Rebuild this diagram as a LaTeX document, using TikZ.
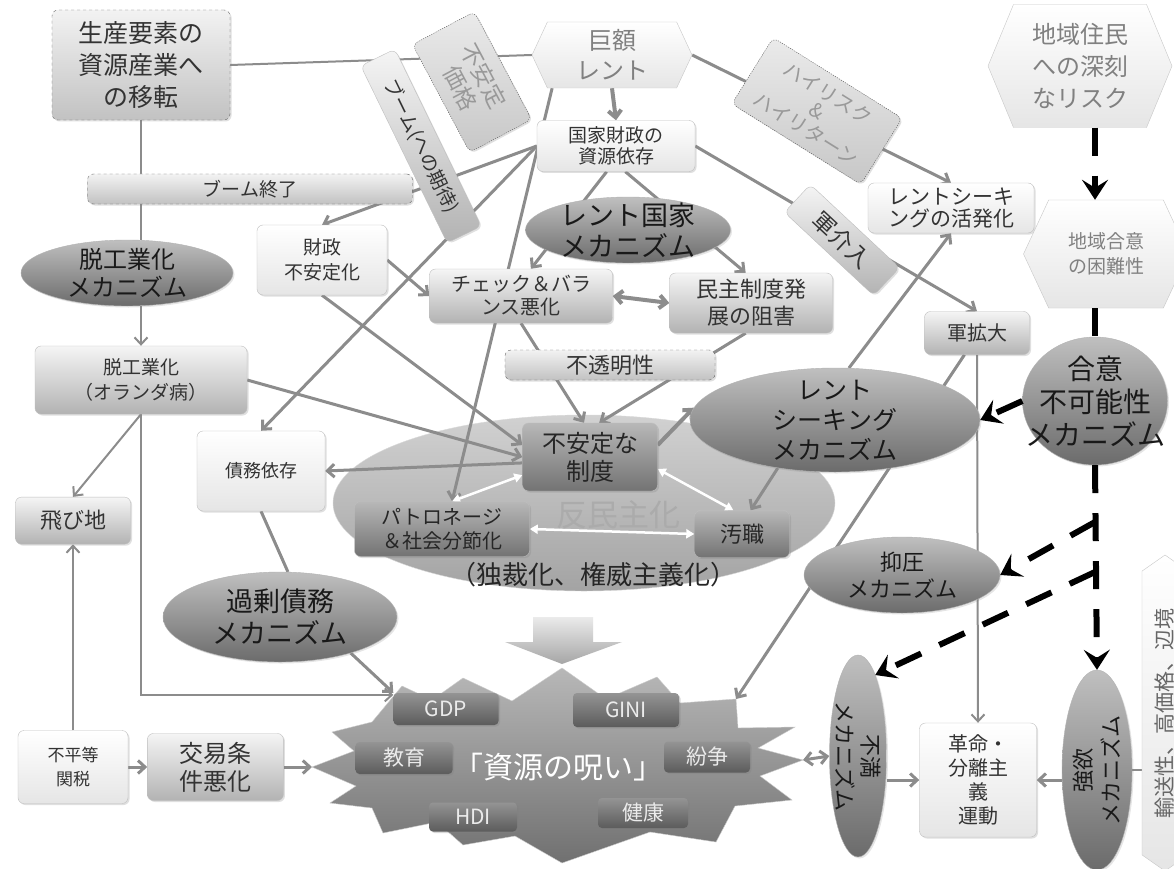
\documentclass[tikz,border=0pt]{standalone}
\usepackage{fontspec}
\setmainfont{Noto Sans CJK JP}
\usetikzlibrary{positioning,shapes.geometric,shapes.symbols,arrows.meta,shadows}
\pgfdeclarelayer{bg}
\pgfdeclarelayer{lines}
\pgfsetlayers{bg,lines,main}
\newcommand{\jsz}[2]{\fontsize{#1}{#2}\selectfont}
\colorlet{lnc}{black!45}

\begin{document}
\begin{tikzpicture}[x=1pt, y=-1pt, >={Straight Barb[length=7pt,width=13pt]},
        box/.style={draw=black!25, rounded corners=6pt, align=center, inner sep=1pt,
            top color=black!4, bottom color=black!30, text=black!80,
            drop shadow={opacity=0.25, shadow xshift=1.5pt, shadow yshift=-1.5pt}},
        lightbox/.style={box, top color=white, bottom color=black!10},
        darkbox/.style={box, top color=black!28, bottom color=black!55, text=black!85},
        dashbox/.style={box, dashed, draw=black!60, top color=black!5, bottom color=black!24},
        dotbox/.style={box, dash pattern=on 1.2pt off 1.2pt, draw=black!65,
            top color=black!8, bottom color=black!22, text=black!40},
        mech/.style={ellipse, draw=black!30, inner sep=0pt, align=center,
            top color=black!25, bottom color=black!58, text=black!90,
            drop shadow={opacity=0.2, shadow xshift=1.5pt, shadow yshift=-1.5pt}},
        hexa/.style={signal, signal to=west and east, signal pointer angle=130,
            draw=black!22, inner sep=0pt, align=center,
            top color=white, bottom color=black!10, text=black!50},
        tag/.style={rounded corners=4pt, top color=black!42, bottom color=black!64,
            text=white!92!black, inner sep=0pt, font=\jsz{21}{21},
            drop shadow={opacity=0.3, shadow xshift=1.5pt, shadow yshift=-1.5pt}},
        link/.style={draw=lnc, line width=3pt, ->},
        thinlink/.style={draw=lnc, line width=2pt, ->},
        bare/.style={draw=lnc, line width=2pt},
        twin/.style={draw=white, line width=2.5pt,
            {Triangle[length=8pt,width=9pt]}-{Triangle[length=8pt,width=9pt]}},
        risky/.style={draw=black, line width=6pt, dash pattern=on 28pt off 20pt,
            -{Stealth[length=20pt,width=26pt,inset=8pt]}}
    ]
    \useasboundingbox (0,0) rectangle (1174,869);

    \begin{pgfonlayer}{bg}
        \fill[white] (0,0) rectangle (1174,869);
        \node[ellipse, minimum width=502pt, minimum height=176pt, draw=black!15,
            top color=black!18, bottom color=black!36] (anti) at (584,503) {};
    \end{pgfonlayer}

    % upper left: boom and deindustrialisation
    \node[dashbox, minimum width=178pt, minimum height=110pt, font=\jsz{25}{32}] (seisan) at (141,65) {生産要素の\\資源産業へ\\の移転};
    \node[dashbox, minimum width=325pt, minimum height=30pt, font=\jsz{19}{19}] (boomend) at (250,189) {ブーム終了};
    \node[mech, minimum width=212pt, minimum height=66pt, inner ysep=-4pt, font=\jsz{24}{28}] (datsumech) at (127,273) {脱工業化\\メカニズム};
    \node[box, minimum width=212pt, minimum height=68pt, font=\jsz{19}{25}] (datsu) at (141,380) {脱工業化\\（オランダ病）};
    \node[lightbox, minimum width=110pt, minimum height=73pt, font=\jsz{17}{24}] (futou) at (73,767) {不平等\\関税};
    \node[box, minimum width=115pt, minimum height=47pt, font=\jsz{22}{22}] (tobichi) [above=186pt of futou] {飛び地};
    \node[box, minimum width=136pt, minimum height=67pt, font=\jsz{24}{28}] (koueki) [right=19pt of futou] {交易条\\件悪化};
    \node[lightbox, minimum width=130pt, minimum height=70pt, font=\jsz{19}{25}] (zaisei) at (322,260) {財政\\不安定化};
    \node[lightbox, minimum width=128pt, minimum height=80pt, font=\jsz{18}{18}] (saimu) at (261,471) {債務依存};
    \node[mech, minimum width=234pt, minimum height=90pt, font=\jsz{27}{32}] (kajou) at (280,617) {過剰債務\\メカニズム};

    % rent state
    \node[hexa, minimum width=160pt, minimum height=66pt, font=\jsz{24}{30}] (kyogaku) at (612,55) {巨額\\レント};
    \node[dotbox, rotate=-62, minimum width=122pt, minimum height=70pt, font=\jsz{23}{26}] (fuanka) at (472,82) {不安定\\価格};
    \node[box, rotate=-64, minimum width=197pt, minimum height=38pt, font=\jsz{19}{19}] (boom) at (421,146) {ブーム(への期待)};
    \node[dotbox, rotate=-32, minimum width=152pt, minimum height=78pt, font=\jsz{20}{21}] (hirisk) at (817,111) {ハイリスク\\\&\\ハイリターン};
    \node[lightbox, minimum width=158pt, minimum height=51pt, font=\jsz{19}{21}] (kokka) at (616,146) {国家財政の\\資源依存};
    \node[mech, minimum width=205pt, minimum height=66pt, inner ysep=-7pt, font=\jsz{27}{31}] (rentstate) at (628,230) {レント国家\\メカニズム};
    \node[box, minimum width=183pt, minimum height=54pt, font=\jsz{20}{23}] (check) at (521,296) {チェック＆バラ\\ンス悪化};
    \node[box, minimum width=163pt, minimum height=60pt, font=\jsz{22}{27}] (minshu) at (751,303) {民主制度発\\展の阻害};
    \node[dashbox, minimum width=210pt, minimum height=30pt, font=\jsz{22}{22}] (futoumei) at (610,365) {不透明性};
    \node[box, rotate=-43, minimum width=122pt, minimum height=38pt, font=\jsz{23}{23}] (gunkai) at (842,240) {軍介入};

    % anti-democratisation
    \node[darkbox, minimum width=135pt, minimum height=68pt, font=\jsz{24}{28}] (fuan) at (590,457) {不安定な\\制度};
    \node[darkbox, minimum width=175pt, minimum height=55pt, font=\jsz{20}{24}] (patro) at (442,529) {パトロネージ\\＆社会分節化};
    \node[darkbox, minimum width=95pt, minimum height=47pt, font=\jsz{22}{22}] (oshoku) at (742,534) {汚職};
    \node[text=black!33, font=\jsz{31}{31}] (antilbl) at (618,515) {反民主化};
    \node[text=black!85, font=\jsz{26}{26}] (dictlbl) at (593,575) {（独裁化、権威主義化）};

    % right side
    \node[lightbox, minimum width=166pt, minimum height=50pt, font=\jsz{21}{22}] (katsu) at (951,208) {レントシーキ\\ングの活発化};
    \node[mech, minimum width=290pt, minimum height=104pt, inner ysep=-7pt, font=\jsz{25}{30}] (rentseek) at (835,420) {レント\\シーキング\\メカニズム};
    \node[box, minimum width=105pt, minimum height=43pt, font=\jsz{20}{20}] (gunkaku) at (977,333) {軍拡大};
    \node[hexa, signal pointer angle=135, minimum width=184pt, minimum height=123pt, font=\jsz{24}{32}] (risk) at (1080,66) {地域住民\\への深刻\\なリスク};
    \node[hexa, minimum width=165pt, minimum height=108pt, font=\jsz{19}{25}] (goui) at (1106,254) {地域合意\\の困難性};
    \node[mech, minimum width=145pt, minimum height=128pt, inner xsep=-20pt, inner ysep=-3pt, font=\jsz{28}{33}] (gouimech) at (1095,401) {合意\\不可能性\\メカニズム};
    \node[mech, minimum width=196pt, minimum height=76pt, font=\jsz{22}{27}] (yokuatsu) at (902,575) {抑圧\\メカニズム};
    \node[mech, rotate=-90, minimum width=202pt, minimum height=57pt, inner ysep=-5pt, font=\jsz{22}{26}] (fuman) at (858,756) {不満\\メカニズム};
    \node[mech, rotate=90, minimum width=200pt, minimum height=70pt, inner ysep=-1pt, font=\jsz{22}{28}] (gouyoku) at (1097,770) {強欲\\メカニズム};
    \node[lightbox, minimum width=117pt, minimum height=114pt, font=\jsz{20}{24}] (kakumei) at (978,780) {革命・\\分離主\\義\\運動};
    \node[hexa, rotate=90, signal pointer angle=110, minimum width=316pt, minimum height=46pt, text=black!60, font=\jsz{21}{21}] (yuso) at (1165,713) {輸送性、高価格、辺境};

    % resource curse
    \path[draw=black!20, top color=black!28, bottom color=black!56]
        (562,668) -- (606,699) -- (657,677) -- (680,703) -- (736,699) -- (738,728)
        -- (795,727) -- (758,748) -- (803,760) -- (760,776) -- (792,800) -- (735,806)
        -- (716,842) -- (650,832) -- (562,863) -- (515,836) -- (463,845) -- (437,822)
        -- (383,833) -- (372,808) -- (330,803) -- (356,786) -- (312,767) -- (354,751)
        -- (332,732) -- (372,722) -- (402,686) -- (432,700) -- (463,678) -- (512,701) -- cycle;
    \coordinate (curseL) at (312,767);
    \coordinate (curseR) at (803,760);
    \coordinate (curseNE) at (736,699);
    \path[top color=black!8, bottom color=black!35]
        (533,617) -- (593,617) -- (593,642) -- (622,642) -- (562,664) -- (505,642) -- (533,642) -- cycle;
    \node[tag, minimum width=105pt, minimum height=32pt] (gdp) at (446,709) {GDP};
    \node[tag, minimum width=106pt, minimum height=34pt] (gini) at (626,710) {GINI};
    \node[tag, minimum width=97pt, minimum height=32pt] (kyoiku) at (404,758) {教育};
    \node[tag, minimum width=86pt, minimum height=31pt] (funso) at (707,757) {紛争};
    \node[tag, minimum width=88pt, minimum height=29pt] (hdi) at (473,817) {HDI};
    \node[tag, minimum width=90pt, minimum height=30pt] (kenko) at (643,813) {健康};
    \node[text=white, font=\jsz{30}{30}] (curse) at (558,767) {「資源の呪い」};

    \begin{pgfonlayer}{lines}
        \draw[bare] (seisan.east) -- (kyogaku.west);
        \draw[bare] (seisan.south) -- (seisan.south |- datsumech.north);
        \draw[thinlink] (datsumech.south -| datsu.north) -- (datsu.north);
        \draw[thinlink] (datsu.south) -- (tobichi.north);
        \draw[thinlink] (datsu.south) |- (gdp.165);
        \draw[thinlink] (futou.north) -- (tobichi.south);
        \draw[link] (futou.east) -- (koueki.west);
        \draw[link] (koueki.east) -- (curseL);
        \draw[link] (kajou.-27) -- (gdp.north west);
        \draw[bare, line width=3pt] (saimu.south) -- (kajou.80);
        \draw[link] (kokka.west) -- (zaisei.north);
        \draw[link] (kokka.west) -- (saimu.north);
        \draw[link] (kyogaku.209) -- (patro.70);
        \draw[link] (zaisei.east) -- (check.west);
        \draw[link] (zaisei.south) -- (fuan.170);
        \draw[link] (datsu.east) -- (fuan.west);
        \draw[link] (fuan.185) -- (saimu.east);
        \draw[link, line width=4pt] (kyogaku.south) -- (kokka.north);
        \draw[link] (kyogaku.east) -- (katsu.north);
        \draw[link] (kokka.east) -- (gunkaku.north);
        \draw[link] (kokka.250) -- (check.70);
        \draw[link] (kokka.290) -- (minshu.100);
        \draw[link, line width=4pt, <->] (check.east) -- (minshu.west);
        \draw[link] (check.south) -- (fuan.100);
        \draw[link] (minshu.260) -- (fuan.75);
        \draw[link, line width=4pt] (fuan.10) -- (rentseek.175);
        \draw[link] (rentseek.220) -- (oshoku.70);
        \draw[link] (rentseek.75) -- (katsu.south);
        \draw[link] (gunkaku.240) -- (curseNE);
        \draw[thinlink] (gunkaku.south) -- (kakumei.north);
        \draw[link] (fuman.north |- kakumei.west) -- (kakumei.west);
        \draw[link] (gouyoku.north |- kakumei.east) -- (kakumei.east);
        \draw[bare] (gouyoku.south) -- (gouyoku.south -| yuso.north);
        \draw[link, <->] (curseR) -- (fuman.south);
        \draw[twin] (fuan.195) -- (patro.70);
        \draw[twin] (fuan.-10) -- (oshoku.110);
        \draw[twin] (patro.east) -- (oshoku.west);
    \end{pgfonlayer}

    % critical chain
    \coordinate (br1) at (1095,522);
    \coordinate (br2) at (1095,572);
    \draw[risky] (risk.south -| gouimech.north) -- (goui.north -| gouimech.north);
    \draw[risky, -] (goui.south -| gouimech.north) -- (gouimech.north);
    \draw[risky] (gouimech.south) -- (gouyoku.east);
    \draw[risky] (gouimech.west) -- (rentseek.east);
    \draw[risky] (br1) -- (yokuatsu.east);
    \draw[risky] (br2) -- (fuman.168);
\end{tikzpicture}
\end{document}
